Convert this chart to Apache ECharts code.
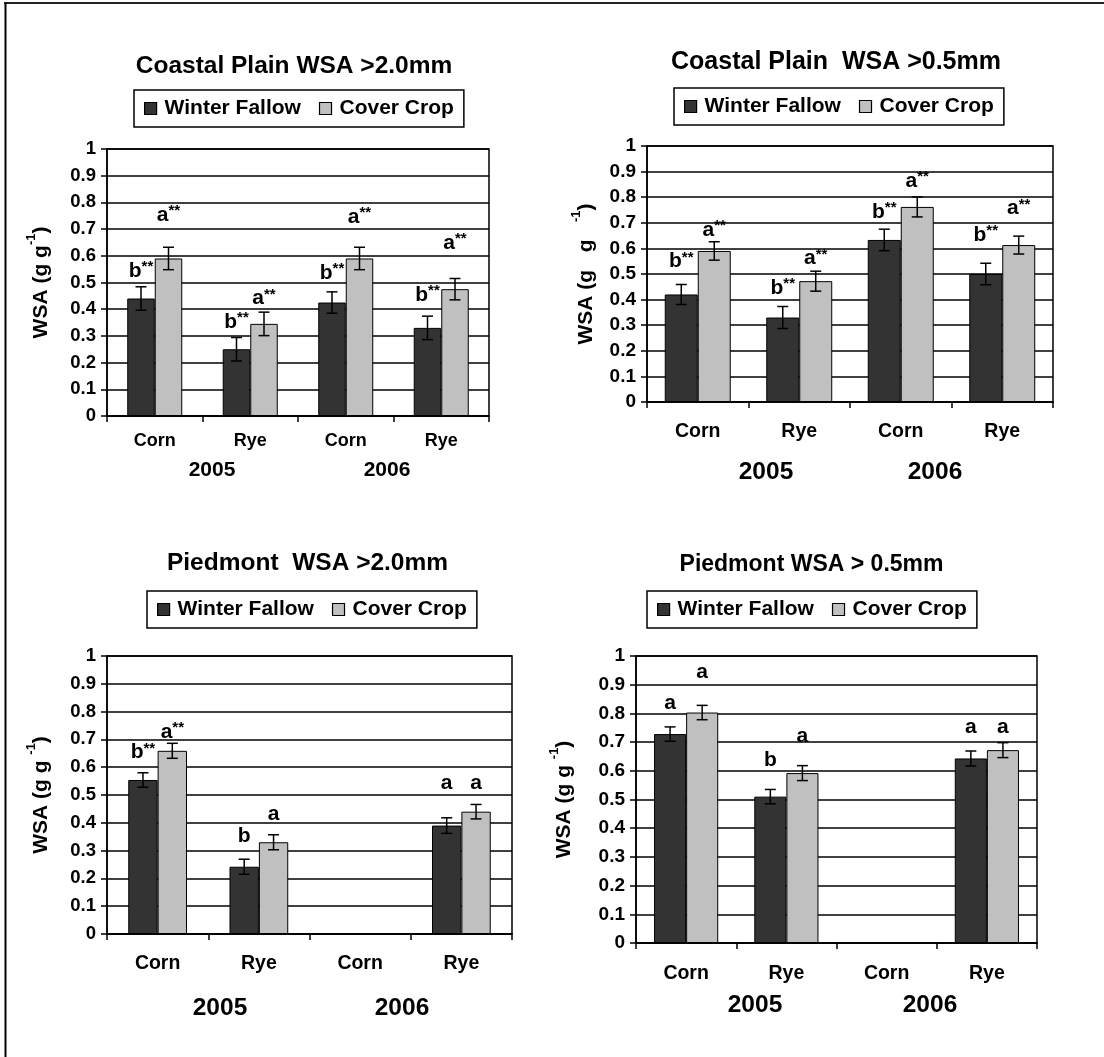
<!DOCTYPE html>
<html>
<head>
<meta charset="utf-8">
<script src="https://cdn.jsdelivr.net/npm/echarts@6/dist/echarts.min.js"></script>
<style>
  html, body { margin: 0; padding: 0; background: #fff; }
  #chart { width: 1104px; height: 1057px; }
</style>
</head>
<body>
<div id="chart"></div>
<script>
// Water-stable aggregates (WSA) under winter fallow vs. cover crop
const categories = ['Corn', 'Rye', 'Corn', 'Rye'];
const years = ['2005', '2006'];
const seriesNames = ['Winter Fallow', 'Cover Crop'];

// Coastal Plain, WSA > 2.0 mm
const cp20Fallow = [0.44, 0.25, 0.425, 0.33];
const cp20Cover = [0.59, 0.345, 0.59, 0.475];
const cp20FallowErr = [0.044, 0.044, 0.04, 0.044];
const cp20CoverErr = [0.042, 0.044, 0.042, 0.04];
const cp20FallowLetters = ['b**', 'b**', 'b**', 'b**'];
const cp20CoverLetters = ['a**', 'a**', 'a**', 'a**'];
const cp20FallowLetterY = [0.545, 0.355, 0.538, 0.454];
const cp20CoverLetterY = [0.754, 0.442, 0.748, 0.65];

// Coastal Plain, WSA > 0.5 mm
const cp05Fallow = [0.42, 0.33, 0.633, 0.5];
const cp05Cover = [0.59, 0.472, 0.762, 0.613];
const cp05FallowErr = [0.039, 0.043, 0.042, 0.042];
const cp05CoverErr = [0.036, 0.039, 0.039, 0.035];
const cp05FallowLetters = ['b**', 'b**', 'b**', 'b**'];
const cp05CoverLetters = ['a**', 'a**', 'a**', 'a**'];
const cp05FallowLetterY = [0.55, 0.446, 0.745, 0.654];
const cp05CoverLetterY = [0.673, 0.563, 0.865, 0.758];

// Piedmont, WSA > 2.0 mm (no 2006 corn)
const pd20Fallow = [0.554, 0.242, null, 0.39];
const pd20Cover = [0.659, 0.33, null, 0.44];
const pd20FallowErr = [0.026, 0.027, null, 0.028];
const pd20CoverErr = [0.027, 0.027, null, 0.026];
const pd20FallowLetters = ['b**', 'b', '', 'a'];
const pd20CoverLetters = ['a**', 'a', '', 'a'];
const pd20FallowLetterY = [0.654, 0.354, null, 0.546];
const pd20CoverLetterY = [0.729, 0.432, null, 0.546];

// Piedmont, WSA > 0.5 mm (no 2006 corn)
const pd05Fallow = [0.728, 0.51, null, 0.643];
const pd05Cover = [0.803, 0.592, null, 0.672];
const pd05FallowErr = [0.025, 0.025, null, 0.026];
const pd05CoverErr = [0.025, 0.026, null, 0.026];
const pd05FallowLetters = ['a', 'b', '', 'a'];
const pd05CoverLetters = ['a', 'a', '', 'a'];
const pd05FallowLetterY = [0.839, 0.637, null, 0.752];
const pd05CoverLetterY = [0.944, 0.723, null, 0.752];

const FONT = '"Liberation Sans", Arial, Helvetica, sans-serif';
const DARK = '#333333';
const LIGHT = '#c0c0c0';

const panels = [
  {
    title: 'Coastal Plain WSA >2.0mm', titleX: 294, titleY: 66, titleFont: 24.5,
    grid: { left: 107, top: 149, width: 382, height: 267 },
    legend: { left: 134, top: 90 },
    barFrac: 0.288, tickFont: 18.5, catFont: 18, catMargin: 16, yearFont: 21,
    yearPos: [[212, 470], [387, 470]], nameGap: 55,
    yName: ['WSA (g g', ')'],
    fallow: cp20Fallow, cover: cp20Cover, fallowErr: cp20FallowErr, coverErr: cp20CoverErr,
    fallowLetters: cp20FallowLetters, coverLetters: cp20CoverLetters,
    fallowLetterY: cp20FallowLetterY, coverLetterY: cp20CoverLetterY
  },
  {
    title: 'Coastal Plain  WSA >0.5mm', titleX: 836, titleY: 62, titleFont: 25,
    grid: { left: 647, top: 146, width: 406, height: 256 },
    legend: { left: 674, top: 88 },
    barFrac: 0.325, tickFont: 19, catFont: 19.5, catMargin: 20, yearFont: 24.5,
    yearPos: [[766, 472], [935, 472]], nameGap: 50,
    yName: ['WSA (g   g   ', ')'],
    fallow: cp05Fallow, cover: cp05Cover, fallowErr: cp05FallowErr, coverErr: cp05CoverErr,
    fallowLetters: cp05FallowLetters, coverLetters: cp05CoverLetters,
    fallowLetterY: cp05FallowLetterY, coverLetterY: cp05CoverLetterY
  },
  {
    title: 'Piedmont  WSA >2.0mm', titleX: 307.5, titleY: 563, titleFont: 24.5,
    grid: { left: 107, top: 656, width: 405, height: 278 },
    legend: { left: 147, top: 591 },
    barFrac: 0.29, tickFont: 18.5, catFont: 19.5, catMargin: 20, yearFont: 24.5,
    yearPos: [[220, 1008], [402, 1008]], nameGap: 55,
    yName: ['WSA (g g ', ')'],
    fallow: pd20Fallow, cover: pd20Cover, fallowErr: pd20FallowErr, coverErr: pd20CoverErr,
    fallowLetters: pd20FallowLetters, coverLetters: pd20CoverLetters,
    fallowLetterY: pd20FallowLetterY, coverLetterY: pd20CoverLetterY
  },
  {
    title: 'Piedmont WSA > 0.5mm', titleX: 811.5, titleY: 565, titleFont: 23,
    grid: { left: 636, top: 656, width: 401, height: 287 },
    legend: { left: 647, top: 591 },
    barFrac: 0.32, tickFont: 19, catFont: 19.5, catMargin: 21, yearFont: 24.5,
    yearPos: [[755, 1005], [930, 1005]], nameGap: 61,
    yName: ['WSA (g g ', ')'],
    fallow: pd05Fallow, cover: pd05Cover, fallowErr: pd05FallowErr, coverErr: pd05CoverErr,
    fallowLetters: pd05FallowLetters, coverLetters: pd05CoverLetters,
    fallowLetterY: pd05FallowLetterY, coverLetterY: pd05CoverLetterY
  }
];

const option = {
  animation: false,
  backgroundColor: '#fff',
  textStyle: { fontFamily: FONT },
  grid: [], xAxis: [], yAxis: [], legend: [], series: [], graphic: []
};

// page frame (top and left rules)
option.graphic.push(
  { type: 'line', shape: { x1: 4, y1: 3, x2: 1104, y2: 3 }, style: { stroke: '#222', lineWidth: 2 } },
  { type: 'line', shape: { x1: 5.5, y1: 3, x2: 5.5, y2: 1057 }, style: { stroke: '#000', lineWidth: 2 } }
);

panels.forEach((p, i) => {
  option.grid.push(Object.assign({
    show: true, borderColor: '#000', borderWidth: 1.5, backgroundColor: 'transparent'
  }, p.grid));

  option.xAxis.push({
    type: 'category', gridIndex: i, data: categories, boundaryGap: true,
    axisLine: { lineStyle: { color: '#000', width: 1.5 } },
    axisTick: { show: true, alignWithLabel: false, interval: 0, length: 6, lineStyle: { color: '#000', width: 1.5 } },
    axisLabel: { interval: 0, color: '#000', fontWeight: 'bold', fontSize: p.catFont, margin: p.catMargin, fontFamily: FONT },
    splitLine: { show: false }
  });

  option.yAxis.push({
    type: 'value', gridIndex: i, min: 0, max: 1, interval: 0.1,
    axisLine: { show: true, lineStyle: { color: '#000', width: 1.5 } },
    axisTick: { show: true, length: 6, lineStyle: { color: '#000', width: 1.5 } },
    axisLabel: { color: '#000', fontWeight: 'bold', fontSize: p.tickFont, margin: 11, fontFamily: FONT,
      formatter: v => String(+v.toFixed(1)) },
    splitLine: { show: true, lineStyle: { color: '#000', width: 1.5 } },
    name: '{t|' + p.yName[0] + '}{s|-1}{t|' + p.yName[1] + '}',
    nameLocation: 'middle', nameRotate: 90, nameGap: p.nameGap,
    nameTextStyle: {
      rich: {
        t: { fontSize: 21, fontWeight: 'bold', color: '#000', fontFamily: FONT, lineHeight: 27, verticalAlign: 'bottom' },
        s: { fontSize: 13, fontWeight: 'bold', color: '#000', fontFamily: FONT, lineHeight: 27, verticalAlign: 'top' }
      }
    }
  });

  option.legend.push({
    data: seriesNames, left: p.legend.left, top: p.legend.top, orient: 'horizontal',
    selectedMode: false, icon: 'rect', itemWidth: 12, itemHeight: 12, itemGap: 18,
    borderColor: '#000', borderWidth: 1.5, padding: [8, 10, 8, 10],
    itemStyle: { borderColor: '#000', borderWidth: 1.2 },
    textStyle: { fontSize: 21, fontWeight: 'bold', color: '#000', fontFamily: FONT, padding: [0, 0, 0, 3] }
  });

  const mkBar = (name, data, color) => ({
    type: 'bar', name, xAxisIndex: i, yAxisIndex: i,
    data: data.map(v => (v == null ? '-' : v)),
    barWidth: (p.barFrac * 100) + '%', barGap: '0%',
    itemStyle: { color, borderColor: '#000', borderWidth: 1 },
    z: 2
  });
  option.series.push(mkBar(seriesNames[0], p.fallow, DARK));
  option.series.push(mkBar(seriesNames[1], p.cover, LIGHT));

  // error bars: [category, mean, halfwidth, side]
  const errData = [];
  p.fallow.forEach((v, k) => { if (v != null) errData.push([k, v, p.fallowErr[k], -1]); });
  p.cover.forEach((v, k) => { if (v != null) errData.push([k, v, p.coverErr[k], 1]); });
  option.series.push({
    type: 'custom', xAxisIndex: i, yAxisIndex: i, z: 5, silent: true,
    data: errData,
    encode: { x: 0, y: 1 },
    renderItem: (params, api) => {
      const k = api.value(0), v = api.value(1), e = api.value(2), side = api.value(3);
      const band = api.size([1, 0])[0];
      const cx = api.coord([k, v])[0] + side * p.barFrac * band / 2;
      const yTop = api.coord([k, v + e])[1];
      const yBot = api.coord([k, v - e])[1];
      const cap = 5.5;
      const st = { stroke: '#000', lineWidth: 1.5 };
      return {
        type: 'group',
        children: [
          { type: 'line', shape: { x1: cx, y1: yTop, x2: cx, y2: yBot }, style: st },
          { type: 'line', shape: { x1: cx - cap, y1: yTop, x2: cx + cap, y2: yTop }, style: st },
          { type: 'line', shape: { x1: cx - cap, y1: yBot, x2: cx + cap, y2: yBot }, style: st }
        ]
      };
    }
  });

  // significance letters above each bar
  const letterData = [];
  const letterText = [];
  p.fallowLetterY.forEach((y, k) => { if (y != null) { letterData.push([k, y, -1]); letterText.push(p.fallowLetters[k]); } });
  p.coverLetterY.forEach((y, k) => { if (y != null) { letterData.push([k, y, 1]); letterText.push(p.coverLetters[k]); } });
  option.series.push({
    type: 'custom', xAxisIndex: i, yAxisIndex: i, z: 6, silent: true,
    data: letterData,
    encode: { x: 0, y: 1 },
    renderItem: (params, api) => {
      const k = api.value(0), y = api.value(1), side = api.value(2);
      const band = api.size([1, 0])[0];
      const pt = api.coord([k, y]);
      const cx = pt[0] + side * p.barFrac * band / 2;
      const txt = letterText[params.dataIndex];
      const m = /^([ab])(\*\*)?$/.exec(txt);
      return {
        type: 'text',
        style: {
          x: cx, y: pt[1],
          text: m && m[2] ? '{l|' + m[1] + '}{a|**}' : '{l|' + txt + '}',
          align: 'center', verticalAlign: 'middle',
          rich: {
            l: { fontSize: 21, fontWeight: 'bold', fill: '#000', fontFamily: FONT, lineHeight: 22, verticalAlign: 'bottom' },
            a: { fontSize: 15, fontWeight: 'bold', fill: '#000', fontFamily: FONT, lineHeight: 22, verticalAlign: 'top' }
          }
        }
      };
    }
  });

  // panel title
  option.graphic.push({
    type: 'text', x: p.titleX, y: p.titleY,
    style: { text: p.title, fontSize: p.titleFont, fontWeight: 'bold', fill: '#000', fontFamily: FONT,
      align: 'center', verticalAlign: 'middle' }
  });

  // year labels beneath the crop categories
  years.forEach((yr, j) => {
    option.graphic.push({
      type: 'text', x: p.yearPos[j][0], y: p.yearPos[j][1],
      style: { text: yr, fontSize: p.yearFont, fontWeight: 'bold', fill: '#000', fontFamily: FONT,
        align: 'center', verticalAlign: 'middle' }
    });
  });
});

const chart = echarts.init(document.getElementById('chart'), null, { renderer: 'canvas' });
chart.setOption(option);
</script>
</body>
</html>
